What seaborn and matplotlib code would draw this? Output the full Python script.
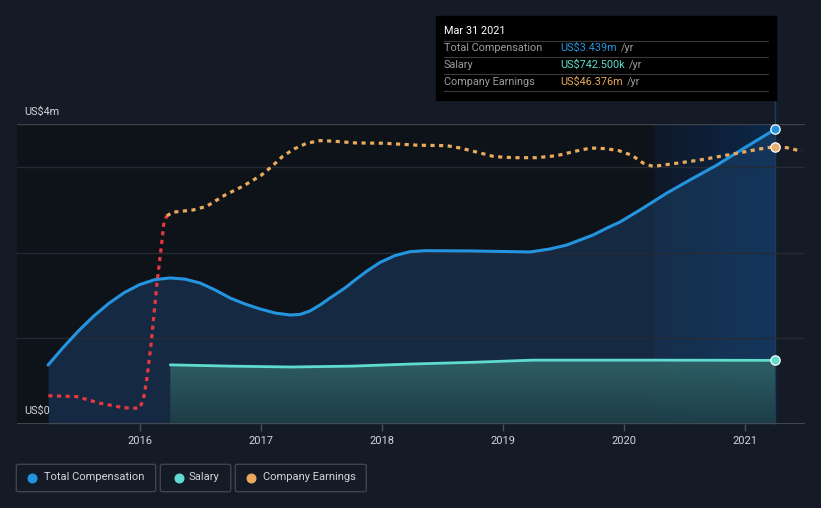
import numpy as np
import matplotlib
matplotlib.use("Agg")
import matplotlib.pyplot as plt
import seaborn as sns
import pandas as pd
from matplotlib.patches import FancyBboxPatch, Rectangle
from matplotlib.lines import Line2D
from matplotlib.colors import LinearSegmentedColormap

# ---------------- data ----------------
comp_years = [2015.240, 2015.366, 2015.492, 2015.618, 2015.744, 2015.870, 2015.996,
              2016.122, 2016.248, 2016.372, 2016.496, 2016.620, 2016.744, 2016.868,
              2016.992, 2017.116, 2017.240, 2017.322, 2017.405, 2017.488, 2017.570,
              2017.694, 2017.777, 2017.876, 2017.983, 2018.107, 2018.231, 2018.355,
              2018.727, 2019.223, 2019.388, 2019.529, 2019.636, 2019.744, 2019.860,
              2019.967, 2020.132, 2020.355, 2020.545, 2020.769, 2021.000, 2021.250]
comp_values = [0.688, 0.895, 1.087, 1.260, 1.410, 1.533, 1.626, 1.684, 1.704, 1.690,
               1.645, 1.564, 1.470, 1.400, 1.342, 1.295, 1.272, 1.278, 1.319, 1.389,
               1.470, 1.587, 1.680, 1.785, 1.885, 1.965, 2.010, 2.022, 2.019, 2.007,
               2.042, 2.089, 2.147, 2.205, 2.287, 2.357, 2.497, 2.695, 2.847, 3.022,
               3.225, 3.439]

salary_years = [2016.25, 2016.75, 2017.25, 2017.75, 2018.25, 2018.75, 2019.25, 2020.25, 2021.25]
salary_values = [0.690, 0.675, 0.665, 0.675, 0.700, 0.720, 0.745, 0.745, 0.7425]

earn_years = [2015.242, 2015.477, 2015.669, 2015.862, 2015.994, 2016.027, 2016.055,
              2016.088, 2016.116, 2016.142, 2016.179, 2016.198, 2016.221, 2016.267,
              2016.440, 2016.551, 2016.700, 2016.854, 2017.002, 2017.091, 2017.176,
              2017.273, 2017.378, 2017.490, 2017.606, 2017.779, 2018.011, 2018.300,
              2018.535, 2018.645, 2018.810, 2018.926, 2019.085, 2019.279, 2019.444,
              2019.609, 2019.725, 2019.843, 2019.956, 2020.064, 2020.160, 2020.240,
              2020.436, 2020.628, 2020.903, 2021.124, 2021.250, 2021.345, 2021.469]
earn_values = [-115.6, -116.2, -120.5, -123.4, -123.8, -118.4, -105.4, -84.2, -62.0,
               -41.0, -16.5, -2.4, 1.3, 3.7, 5.2, 7.6, 14.8, 20.8, 27.8, 33.6, 39.9,
               44.9, 48.6, 50.3, 49.9, 48.8, 48.6, 47.3, 47.0, 45.5, 42.3, 39.9, 39.2,
               39.2, 40.5, 43.6, 45.5, 45.1, 43.8, 40.8, 35.6, 33.5, 35.6, 37.7, 41.6,
               44.9, 46.376, 45.7, 43.4]

year_ticks = [2016, 2017, 2018, 2019, 2020, 2021]
tick_labels = ["2016", "2017", "2018", "2019", "2020", "2021"]

tooltip_title = "Mar 31 2021"
tooltip_rows = [("Total Compensation", "US$3.439m"),
                ("Salary", "US$742.500k"),
                ("Company Earnings", "US$46.376m")]
legend_labels = ["Total Compensation", "Salary", "Company Earnings"]

# ---------------- style ----------------
BG = "#151b26"
PLOT_BG = "#0e1219"
C_COMP = "#2394df"
C_SAL = "#5fdccf"
C_EARN = "#e9aa5c"
C_NEG = "#e5393f"
TXT = "#d2d4d8"

sns.set_theme(style="dark")
plt.rcParams['font.family'] = ['Roboto', 'DejaVu Sans']

W, H = 821, 508
fig = plt.figure(figsize=(W / 100, H / 100), dpi=100)
fig.patch.set_facecolor(BG)
ax = fig.add_axes([17 / W, 84 / H, 788 / W, 300 / H])
ax.set_facecolor(BG)
for s in ax.spines.values():
    s.set_visible(False)

X0, X1 = 2014.983, 2021.496
END = 2021.25
ax.axvspan(X0, END, color=PLOT_BG, zorder=0, lw=0)

grad = np.linspace(0, 1, 256).reshape(1, -1)
cmap = LinearSegmentedColormap.from_list("band", ["#0f1828", "#0b2849"])
ax.imshow(grad, extent=[2020.25, END, 0, 3.5], aspect="auto", cmap=cmap,
          zorder=0.5, interpolation="bicubic")

# grid lines
ax.axhline(3.5, color="#3d424c", lw=1.0, zorder=2)
for v in [1, 2, 3]:
    ax.axhline(v, color="#252a34", lw=1.0, zorder=2)
ax.axhline(0, color="#4b5059", lw=1.2, zorder=4)

# fills
ax.fill_between(comp_years, comp_values, color="#1d4670", alpha=0.48, lw=0, zorder=1)
sal_poly = ax.fill_between(salary_years, salary_values, color="none", lw=0, zorder=1.2)
vgrad = np.linspace(1, 0, 256).reshape(-1, 1)
scmap = LinearSegmentedColormap.from_list("sal", ["#1f4046", "#33686a"])
sim = ax.imshow(vgrad, extent=[salary_years[0], salary_years[-1], 0, max(salary_values)],
                aspect="auto", cmap=scmap, alpha=0.85, zorder=1.2, interpolation="bicubic")
sim.set_clip_path(sal_poly.get_paths()[0], transform=ax.transData)

# lines
comp_df = pd.DataFrame({"year": comp_years, "value": comp_values})
sal_df = pd.DataFrame({"year": salary_years, "value": salary_values})
sns.lineplot(data=comp_df, x="year", y="value", ax=ax, color=C_COMP, lw=2.2,
             sort=False, estimator=None, zorder=5)
ax.lines[-1].set_solid_joinstyle("round")
sns.lineplot(data=sal_df, x="year", y="value", ax=ax, color=C_SAL, lw=2.0,
             sort=False, estimator=None, zorder=5)

# vertical marker line
ax.plot([END, END], [0, 3.5 + 24 / 85.7], color="#1f3a5c", lw=1.0, zorder=3, clip_on=False)

ax.scatter([END], [comp_values[-1]], s=45, color=C_COMP, edgecolor="white", lw=0.9, zorder=7)
ax.scatter([END], [salary_values[-1]], s=45, color=C_SAL, edgecolor="white", lw=0.9, zorder=7)

ax.set_xlim(X0, X1)
ax.set_ylim(0, 3.5)
ax.set_xticks(year_ticks)
ax.set_xticklabels(tick_labels, color=TXT, fontsize=8)
ax.set_yticks([])
ax.tick_params(axis="x", length=5, width=1, color="#4b5059", pad=4, bottom=True)
ax.set_xlabel("")
ax.set_ylabel("")
ax.grid(False)

# earnings on twin axis
ax2 = ax.twinx()
ax2.patch.set_visible(False)
for s in ax2.spines.values():
    s.set_visible(False)
ax2.set_ylim(-134.0, 61.1)
ax2.set_yticks([])
split = 12
neg_df = pd.DataFrame({"year": earn_years[:split + 1], "value": earn_values[:split + 1]})
pos_df = pd.DataFrame({"year": earn_years[split:], "value": earn_values[split:]})
sns.lineplot(data=neg_df, x="year", y="value", ax=ax2, color=C_NEG, lw=2.3,
             sort=False, estimator=None)
ax2.lines[-1].set_linestyle((0, (1.3, 1.4)))
sns.lineplot(data=pos_df, x="year", y="value", ax=ax2, color=C_EARN, lw=2.3,
             sort=False, estimator=None)
ax2.lines[-1].set_linestyle((0, (1.3, 1.4)))
ax2.scatter([END], [46.376], s=45, color="#e8b070", edgecolor="white", lw=0.9, zorder=7)
ax2.set_xlim(X0, X1)
ax2.set_ylabel("")
ax2.grid(False)

# y labels
fig.text(24 / W, 1 - 112 / H, "US$4m", color=TXT, fontsize=7.8, va="center", ha="left")
fig.text(24 / W, 1 - 411 / H, "US$0", color=TXT, fontsize=7.8, va="center", ha="left")

# tooltip
fig.add_artist(Rectangle((436 / W, 1 - 100 / H), 340 / W, 84 / H,
                         transform=fig.transFigure, color="black", zorder=10))
fig.text(444 / W, 1 - 31 / H, tooltip_title, color="white", fontsize=7.8,
         va="center", ha="left", zorder=11)
for yy in [40.7, 57.3, 74.3, 91]:
    fig.add_artist(Line2D([444 / W, 768 / W], [1 - yy / H, 1 - yy / H],
                          transform=fig.transFigure, color="#3a3a3a", lw=0.8, zorder=11))
val_colors = [C_COMP, C_SAL, C_EARN]
for i, ((lab, val), vc) in enumerate(zip(tooltip_rows, val_colors)):
    yy = 1 - (48.3 + 16.9 * i) / H
    fig.text(444 / W, yy, lab, color="#9a9ca0", fontsize=7.8, va="center", ha="left", zorder=11)
    t = fig.text(560 / W, yy, val, color=vc, fontsize=7.8, va="center", ha="left", zorder=11)
    fig.canvas.draw()
    bb = t.get_window_extent()
    fig.text((bb.x1 + 4) / W, yy, "/yr", color="#9a9ca0", fontsize=7.8,
             va="center", ha="left", zorder=11)

# legend
boxes = [(16.3, 155.7), (160.3, 230.7), (235.3, 366.3)]
dots = [32, 179, 251]
txt_x = [44.3, 188, 263]
leg_colors = [C_COMP, C_SAL, C_EARN]
for (bx0, bx1), dx, tx, lab, lc in zip(boxes, dots, txt_x, legend_labels, leg_colors):
    fig.add_artist(FancyBboxPatch((bx0 / W, 1 - 491.7 / H), (bx1 - bx0) / W, 27.4 / H,
                                  boxstyle="round,pad=0,rounding_size=0.003",
                                  transform=fig.transFigure, facecolor="none",
                                  edgecolor="#3d4350", lw=1.0))
    fig.add_artist(Line2D([dx / W], [1 - 477.5 / H], marker="o", markersize=6.2,
                          color=lc, transform=fig.transFigure, lw=0))
    fig.text(tx / W, 1 - 477.5 / H, lab, color=TXT, fontsize=8, va="center", ha="left")

fig.savefig("out.png", dpi=100, facecolor=BG)
